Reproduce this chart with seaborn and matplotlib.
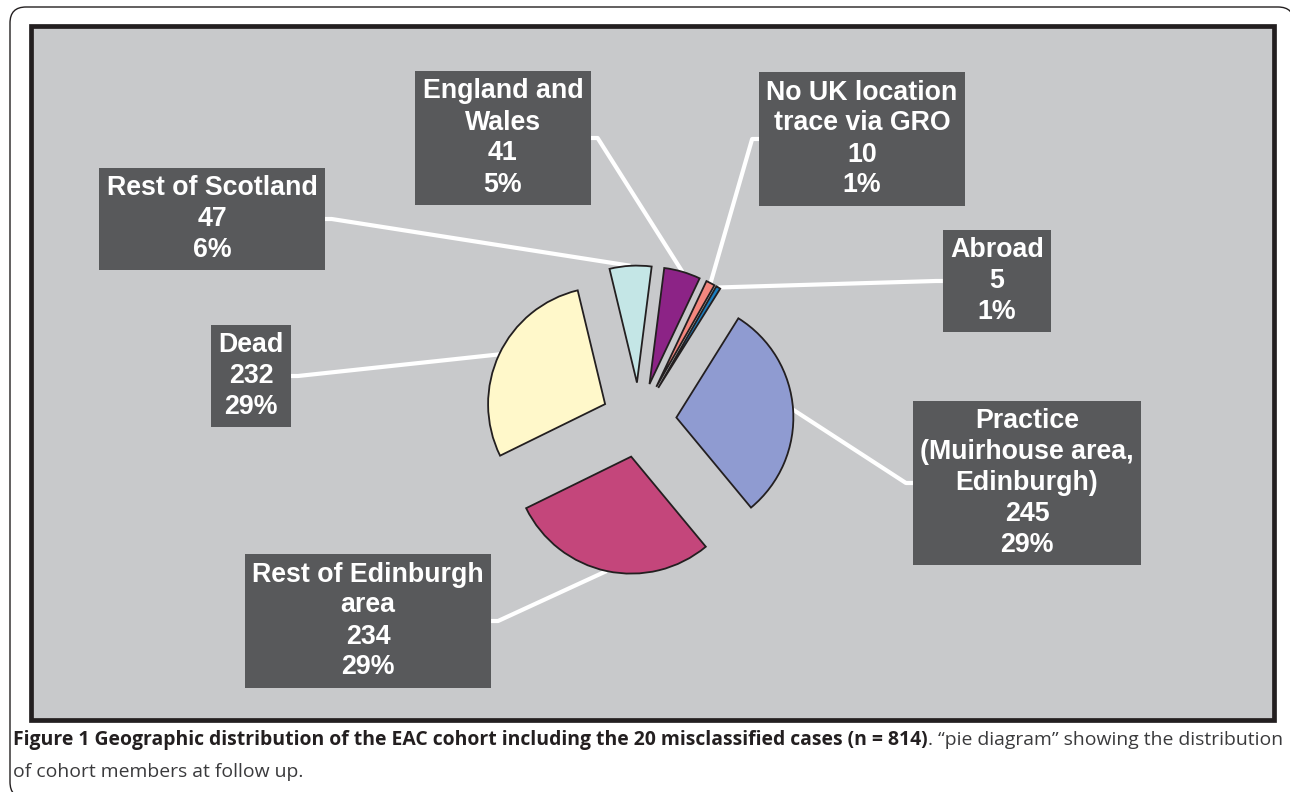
import numpy as np
import matplotlib.pyplot as plt
import matplotlib.patches as mpatches
import seaborn as sns

# data (clockwise from the right-hand slice)
categories = ['Practice\n(Muirhouse area,\nEdinburgh)', 'Rest of Edinburgh\narea', 'Dead',
              'Rest of Scotland', 'England and\nWales', 'No UK location\ntrace via GRO', 'Abroad']
counts = [245, 234, 232, 47, 41, 10, 5]
percents = [29, 29, 29, 6, 5, 1, 1]
slice_colors = ['#8F9BD1', '#C4467B', '#FFF8CA', '#C4E6E6', '#8C2386', '#F4877E', '#1A7EC0']

caption_bold = 'Figure 1 Geographic distribution of the EAC cohort including the 20 misclassified cases (n = 814)'
caption_rest = '. \u201cpie diagram\u201d showing the distribution'
caption_line2 = 'of cohort members at follow up.'

# layout (pixels, image coords with y down)
W, H = 1290, 792
pie_center = (639, 420)
pie_radius = 117
label_pos = [(1027, 483), (368, 621), (251, 376), (212, 219), (503, 138), (862, 139), (997, 281)]

sns.set_style('white')
plt.rcParams['font.family'] = ['Liberation Sans', 'DejaVu Sans']

fig = plt.figure(figsize=(W / 100, H / 100), dpi=100)
fig.patch.set_facecolor('white')
ax = fig.add_axes([0, 0, 1, 1])

# outer rounded frame and grey chart panel
ax.add_patch(mpatches.FancyBboxPatch((10, H - 798), 1284, 791,
                                     boxstyle='round,pad=0,rounding_size=16',
                                     fc='white', ec='#231F20', lw=1.0, zorder=-2))
ax.add_patch(mpatches.Rectangle((31, H - 720), 1243, 694, fc='#C8C9CB',
                                ec='#231F20', lw=3.4, zorder=-1))

wedges, _ = ax.pie(counts, colors=sns.color_palette(slice_colors), startangle=58,
                   counterclock=False, radius=pie_radius,
                   center=(pie_center[0], H - pie_center[1]),
                   explode=[0.32 * pie_radius] * len(counts),
                   wedgeprops=dict(edgecolor='#231F20', linewidth=1.3, zorder=2),
                   frame=True)

ax.set_xlim(0, W)
ax.set_ylim(0, H)
ax.set_aspect('equal')
ax.axis('off')

texts = []
for cat, n, p, (x, y) in zip(categories, counts, percents, label_pos):
    t = ax.text(x, H - y, f'{cat}\n{n}\n{p}%', ha='center', va='center',
                multialignment='center', color='white', fontsize=19.3,
                fontweight='bold', linespacing=1.25, zorder=5,
                bbox=dict(boxstyle='square,pad=0.27', fc='#58595B', ec='none'))
    texts.append(t)

fig.canvas.draw()
renderer = fig.canvas.get_renderer()
inv = ax.transData.inverted()

# leader lines: from the middle of each slice's arc to the nearest side of its label box
for w, t in zip(wedges, texts):
    cx, cy = w.center
    tm = np.deg2rad((w.theta1 + w.theta2) / 2)
    ax_, ay_ = cx + w.r * np.cos(tm), cy + w.r * np.sin(tm)
    bb = t.get_bbox_patch().get_window_extent(renderer)
    (x0, y0), (x1, y1) = inv.transform([[bb.x0, bb.y0], [bb.x1, bb.y1]])
    my = (y0 + y1) / 2
    if (x0 + x1) / 2 > ax_:
        sx, ex = x0 - 7, x0
    else:
        sx, ex = x1 + 7, x1
    ax.plot([ax_, sx, ex], [ay_, my, my], color='white', lw=3, zorder=1,
            solid_capstyle='butt')

# caption
x_start, x_end = 13, 1280
size = 12.5
tb = ax.text(x_start, H - 740, caption_bold, fontsize=size, fontweight='bold',
             family=['Open Sans', 'DejaVu Sans'], color='#231F20', va='center', ha='left')
tr = ax.text(0, H - 740, caption_rest, fontsize=size, fontweight='normal',
             family=['Open Sans', 'DejaVu Sans'], color='#3A3A3C', va='center', ha='left')
fig.canvas.draw()
wb = tb.get_window_extent(renderer).width
wr = tr.get_window_extent(renderer).width
scale = (x_end - x_start) / (wb + wr)
size = size * scale
tb.set_fontsize(size)
tr.set_fontsize(size)
fig.canvas.draw()
bbb = tb.get_window_extent(renderer)
tr.set_x(inv.transform([[bbb.x1, 0]])[0][0])
ax.text(x_start, H - 772, caption_line2, fontsize=size, fontweight='normal',
        family=['Open Sans', 'DejaVu Sans'], color='#3A3A3C', va='center', ha='left')

fig.savefig('out.png', dpi=100)
